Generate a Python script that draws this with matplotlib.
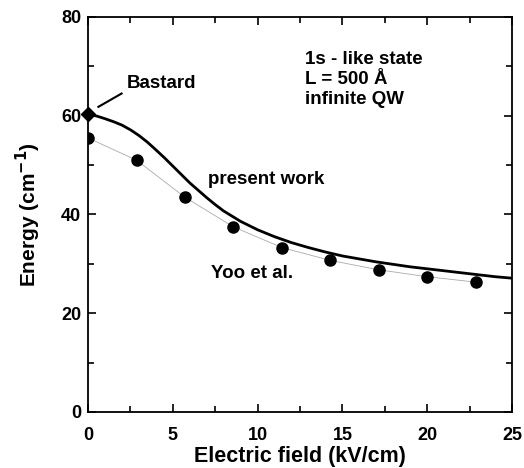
import matplotlib
matplotlib.use("Agg")
import matplotlib.pyplot as plt
from matplotlib.ticker import MultipleLocator

plt.rcParams['font.family'] = ['Liberation Sans', 'DejaVu Sans']
plt.rcParams['font.weight'] = 'bold'

# Yoo et al. data points
yoo_field = [0, 2.86, 5.71, 8.57, 11.43, 14.29, 17.14, 20.0, 22.86]
yoo_energy = [55.5, 51.0, 43.5, 37.5, 33.3, 30.7, 28.8, 27.4, 26.3]

# present work curve
pw_field = [0, 0.5, 1, 1.5, 2, 2.5, 3, 3.5, 4, 4.5, 5, 5.5, 6, 6.5, 7, 7.5, 8, 9, 10,
            11, 12, 13, 14, 15, 16, 17, 18, 19, 20, 21, 22, 23, 24, 25]
pw_energy = [60.3, 59.95, 59.4, 58.8, 58.1, 57.15, 56.0, 54.65, 53.1, 51.5, 49.8,
             48.1, 46.4, 44.9, 43.4, 42.0, 40.7, 38.6, 36.9, 35.5, 34.3, 33.3, 32.4,
             31.6, 31.0, 30.4, 29.9, 29.4, 29.0, 28.6, 28.2, 27.8, 27.4, 27.1]

# Bastard point
bastard_field = [0]
bastard_energy = [60.3]

fig = plt.figure(figsize=(5.24, 4.68), dpi=100)
ax = fig.add_axes([0.168, 0.1197, 0.977 - 0.168, 0.9637 - 0.1197])

ax.plot(yoo_field, yoo_energy, color='#aaaaaa', lw=0.6, zorder=1)
ax.plot(yoo_field, yoo_energy, 'o', color='black', ms=8, zorder=3)
ax.plot(pw_field, pw_energy, color='black', lw=2, zorder=2)
ax.plot(bastard_field, bastard_energy, 'D', color='black', ms=7.5, zorder=4, clip_on=False)

ax.set_xlim(0, 25)
ax.set_ylim(0, 80)
ax.xaxis.set_major_locator(MultipleLocator(5))
ax.xaxis.set_minor_locator(MultipleLocator(2.5))
ax.yaxis.set_major_locator(MultipleLocator(20))
ax.yaxis.set_minor_locator(MultipleLocator(10))
ax.tick_params(which='both', direction='in', top=True, right=True, labelsize=13, width=1.2)
ax.tick_params(which='major', length=6)
ax.tick_params(axis='x', which='major', pad=10.5)
ax.tick_params(axis='y', which='major', pad=5)
ax.tick_params(which='minor', length=4)
for lab in ax.get_xticklabels() + ax.get_yticklabels():
    lab.set_fontweight('bold')
for s in ax.spines.values():
    s.set_linewidth(1.3)

ax.set_xlabel('Electric field (kV/cm)', fontsize=15.5, fontweight='bold', labelpad=2)
ax.set_ylabel('Energy (cm$^{\\mathbf{-1}}$)', fontsize=15, fontweight='bold', labelpad=13)

ax.plot([0.61, 1.98], [61.8, 64.5], color='black', lw=1.5)
ax.text(2.3, 66.6, 'Bastard', fontsize=13.5, fontweight='bold', va='center', ha='left')
ax.text(7.08, 47.0, 'present work', fontsize=13.5, fontweight='bold', va='center', ha='left')
ax.text(7.25, 28.1, 'Yoo et al.', fontsize=13.5, fontweight='bold', va='center', ha='left')
ax.text(12.8, 73.2, '1s - like state\nL = 500 Å\ninfinite QW', fontsize=13.5,
        fontweight='bold', va='top', ha='left', linespacing=1.25)

fig.savefig('out.png', dpi=100)
